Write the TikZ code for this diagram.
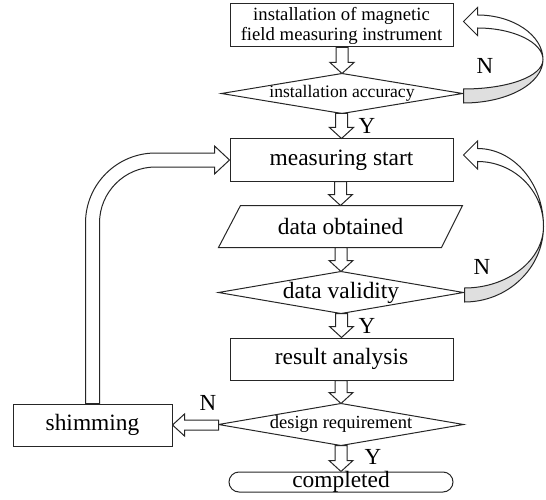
\documentclass[tikz,border=0pt]{standalone}
\usepackage{fontspec}
\setmainfont{Liberation Serif}
\usetikzlibrary{calc}
\newcommand\fsmain{\fontsize{23.4}{26}\selectfont}
\newcommand\fstop{\fontsize{18.7}{20}\selectfont}
\newcommand\fsacc{\fontsize{17.6}{19}\selectfont}
\newcommand\fsdes{\fontsize{18.5}{20}\selectfont}
\newcommand\fslab{\fontsize{23}{25}\selectfont}
% hollow downward block arrow from a node anchor (#1) to a tip anchor (#2)
\newcommand\hollowdown[2]{%
  \draw[hollowarrow] let \p1=(#1), \p2=(#2) in
    (\x2-6pt,\y1) -- (\x2-6pt,\y2+11pt) -- (\x2-12pt,\y2+11pt) -- (\p2)
    -- (\x2+12pt,\y2+11pt) -- (\x2+6pt,\y2+11pt) -- (\x2+6pt,\y1) -- cycle;}
\begin{document}
\begin{tikzpicture}[x=1pt,y=-1pt,line width=1pt,draw=black!85,
  stepbox/.style={draw,rectangle,minimum width=223pt,minimum height=42pt,inner sep=0pt,font=\fsmain},
  ghostbox/.style={rectangle,inner sep=0pt,font=\fsmain},
  hollowarrow/.style={draw,fill=white},
  ynlabel/.style={font=\fslab,inner sep=0pt}]
\useasboundingbox (0,0) rectangle (546,500);

% process boxes and decision boxes
\node[stepbox,minimum height=43pt,font=\fstop,align=center] (n1) at (341.5,25.5)
  {installation of magnetic\\field measuring instrument};
\node[ghostbox,minimum width=240pt,minimum height=39pt,font=\fsacc] (d1) at (342,93.5) {installation accuracy};
\node[stepbox] (n2) at (341.5,160) {measuring start};
\node[ghostbox,minimum width=243pt,minimum height=41pt] (p1) at (340.5,226.5) {data obtained};
\node[ghostbox,minimum width=244pt,minimum height=41pt] (d2) at (341,292.5) {data validity};
\node[stepbox] (n3) at (341.5,359) {result analysis};
\node[ghostbox,minimum width=244pt,minimum height=41pt,font=\fsdes] (d3) at (341,424.5) {design requirement};
\node[stepbox,minimum width=224pt,minimum height=20pt,rounded corners=10pt,text height=14pt,text depth=4pt] (n4) at (341,482) {completed};
\node[stepbox,minimum width=159pt] (n5) at (92.5,425) {shimming};

% diamond and parallelogram outlines
\foreach \d in {d1,d2,d3}
  \draw (\d.west) -- (\d.north) -- (\d.east) -- (\d.south) -- cycle;
\draw ($(p1.north west)+(22,0)$) -- (p1.north east) -- ($(p1.south east)+(-21,0)$) -- (p1.south west) -- cycle;

% straight block arrows
\hollowdown{n1.south}{d1.north}
\hollowdown{d1.south}{n2.north}
\hollowdown{n2.south}{p1.north}
\hollowdown{p1.south}{d2.north}
\hollowdown{d2.south}{n3.north}
\hollowdown{n3.south}{d3.north}
\hollowdown{d3.south}{n4.north}

% N branch to shimming
\draw[hollowarrow] let \p1=(d3.west), \p2=(n5.east) in
  (\x1,\y2+5pt) -- (\x2+12pt,\y2+5pt) -- (\x2+12pt,\y2+11pt) -- (\p2)
  -- (\x2+12pt,\y2-11pt) -- (\x2+12pt,\y2-5pt) -- (\x1,\y2-5pt) -- cycle;

% return from shimming to measuring start
\draw[hollowarrow] let \p1=(n5.north), \p2=(n2.west) in
  (\x1-7pt,\y1) -- (\x1-7pt,\y2-63pt) arc[start angle=180,end angle=90,radius=70pt]
  -- (\x2-15pt,\y2+7pt) -- (\x2-15pt,\y2+14pt) -- (\p2) -- (\x2-15pt,\y2-14pt)
  -- (\x2-15pt,\y2-7pt) -- (\x1+63pt,\y2-7pt) arc[start angle=90,end angle=180,radius=56pt]
  -- (\x1+7pt,\y1) -- cycle;

% curved return arrows on the right
\coordinate (r1) at ($(n1.east)!0.5!(d1.east)+(85,0)$);
\coordinate (r2) at ($(n2.east)!0.5!(d2.east)+(85,0)$);

% loop: installation accuracy -> installation
\fill[gray!25] (r1) .. controls +(0,24) and +(44,0) .. ($(d1.east)+(1,9.5)$)
  -- ($(d1.east)+(1,-4.5)$) .. controls +(44,0) and +(0,17) .. (r1) -- cycle;
\draw ($(n1.east)+(24,-10.5)$) .. controls +(36,0) and +(0,-24) .. (r1)
  .. controls +(0,24) and +(44,0) .. ($(d1.east)+(1,9.5)$) -- ($(d1.east)+(1,-4.5)$)
  .. controls +(44,0) and +(0,17) .. (r1) .. controls +(0,-17) and +(36,0) .. ($(n1.east)+(24,2.5)$)
  -- ($(n1.east)+(24,10)$) -- ($(n1.east)+(10,-4)$) -- ($(n1.east)+(24,-18)$) -- cycle;

% loop: data validity -> measuring start
\fill[gray!25] (r2) .. controls +(0,42) and +(43,0) .. ($(d2.east)+(1,9.5)$)
  -- ($(d2.east)+(1,-4.5)$) .. controls +(43,0) and +(0,34) .. (r2) -- cycle;
\draw ($(n2.east)+(24,-11.5)$) .. controls +(36,0) and +(0,-43) .. (r2)
  .. controls +(0,42) and +(43,0) .. ($(d2.east)+(1,9.5)$) -- ($(d2.east)+(1,-4.5)$)
  .. controls +(43,0) and +(0,34) .. (r2) .. controls +(0,-36) and +(36,0) .. ($(n2.east)+(24,1.5)$)
  -- ($(n2.east)+(24,9)$) -- ($(n2.east)+(10,-5)$) -- ($(n2.east)+(24,-19)$) -- cycle;

% branch labels
\node[ynlabel] (y1) at (367,126) {Y};
\node[ynlabel] (y2) at (367,326) {Y};
\node[ynlabel] (y3) at (373,457) {Y};
\node[ynlabel] (nl1) at (485,66) {N};
\node[ynlabel] (nl2) at (482,267) {N};
\node[ynlabel] (nl3) at (208,403) {N};
\end{tikzpicture}
\end{document}
